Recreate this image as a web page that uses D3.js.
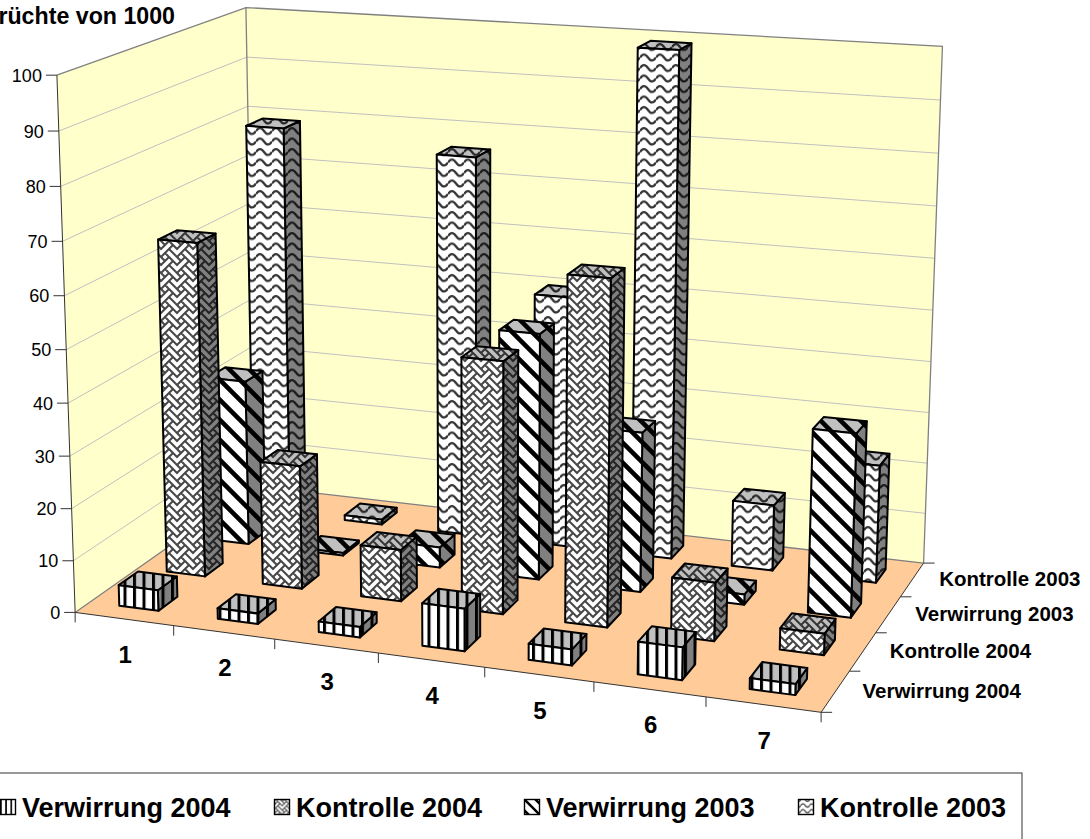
<!DOCTYPE html>
<html><head><meta charset="utf-8">
<script src="https://cdnjs.cloudflare.com/ajax/libs/d3/7.8.5/d3.min.js"></script>
<style>html,body{margin:0;padding:0;background:#fff;overflow:hidden}svg{display:block}text{font-family:"Liberation Sans",Arial,sans-serif;fill:#000}</style>
</head><body><svg id="c" width="1090" height="839"></svg>
<script>
const categories = ["1","2","3","4","5","6","7"];
const seriesNames = ["Verwirrung 2004","Kontrolle 2004","Verwirrung 2003","Kontrolle 2003"];
const verwirrung2004 = [4,2,2,8,3,6,2];
const kontrolle2004 = [65,24,10,48,65,11,4];
const verwirrung2003 = [33,0.5,4,48,31,2,35];
const kontrolle2003 = [79,1,76,50,99,13,23];
const seriesValues = [verwirrung2004,kontrolle2004,verwirrung2003,kontrolle2003];
const valueTicks = [0,10,20,30,40,50,60,70,80,90,100];
const titleText = "Früchte von 1000";

// Frame calibration: cube corner -> picture position
const corners = [
 [0,0,0,78,612],[1,0,0,820,714],[1,1,0,925,561],[0,1,0,252,487],
 [0,0,1,55,74],[0,1,1,248,8],[1,1,1,942,47]
];
function solveProjection(c){
  const A=[],b=[];
  c.forEach(([X,Y,Z,x,y])=>{
    A.push([X,Y,Z,1,0,0,0,0,-x*X,-x*Y,-x*Z]);b.push(x);
    A.push([0,0,0,0,X,Y,Z,1,-y*X,-y*Y,-y*Z]);b.push(y);
  });
  const n=11,M=[];
  for(let i=0;i<n;i++){M.push([]);for(let j=0;j<=n;j++){let s=0;
    for(let k=0;k<A.length;k++)s+=A[k][i]*(j<n?A[k][j]:b[k]);M[i].push(s);}}
  for(let i=0;i<n;i++){let p=i;for(let r=i+1;r<n;r++)if(Math.abs(M[r][i])>Math.abs(M[p][i]))p=r;
    [M[i],M[p]]=[M[p],M[i]];
    for(let r=0;r<n;r++){if(r===i)continue;const f=M[r][i]/M[i][i];for(let j=i;j<=n;j++)M[r][j]-=f*M[i][j];}}
  return M.map((r,i)=>r[n]/r[i]);
}
const P=solveProjection(corners);
const proj=(u,v,w)=>{const d=P[8]*u+P[9]*v+P[10]*w+1;
  return [(P[0]*u+P[1]*v+P[2]*w+P[3])/d,(P[4]*u+P[5]*v+P[6]*w+P[7])/d];};

const uScale=d3.scaleBand().domain(categories).range([0,1]).paddingInner(0.6).paddingOuter(0.3);
const vScale=d3.scaleBand().domain(seriesNames).range([0,1]).paddingInner(0.6).paddingOuter(0.3);
const wScale=d3.scaleLinear().domain([0,100]).range([0,1]);
const uEdge=i=>i/categories.length, vEdge=i=>i/seriesNames.length;

const svg=d3.select("#c");
const defs=svg.append("defs");
const line=d3.line();
const faces={front:"#fff",side:"#808080",top:"#c0c0c0"};
const weaveBits=[0x88,0x54,0x22,0x45,0x88,0x14,0x22,0x51];
const bit=(r,c)=>(weaveBits[(r+8)%8]>>(7-((c+8)%8)))&1;
const painters=[
 (g,ink)=>{g.append("rect").attr("width",3).attr("height",10).attr("fill",ink);},
 (g,ink)=>{let d="";
   d3.range(-1,8).forEach(r=>d3.range(-1,9).forEach(c=>{ if(!bit(r,c))return;
     [-1,1].forEach(k=>{ if(bit(r+1,c+k)) d+=`M${c*2+1},${r*2+1}L${(c+k)*2+1},${(r+1)*2+1}`; });
   }));
   g.append("path").attr("d",d).attr("fill","none").attr("stroke",ink).attr("stroke-width",2).attr("stroke-linecap","square").attr("stroke-opacity",.72);},
 (g,ink)=>{g.append("path").attr("d","M-4,-4L24,24M-24,-4L4,24M16,-4L44,24").attr("stroke",ink).attr("stroke-width",4.6);},
 (g,ink)=>{g.append("path").attr("d","M0,5C2.7,1 5.3,1 8,5S13.3,9 16,5").attr("fill","none").attr("stroke",ink).attr("stroke-width",2.2).attr("stroke-opacity",.8);}
];
const dims=[[9.5,10],[16,16],[20,20],[16,10.5]];
function pat(s,f){const id=`p${s}${f}`;
  const p=defs.append("pattern").attr("id",id).attr("patternUnits","userSpaceOnUse")
    .attr("width",dims[s][0]).attr("height",dims[s][1]);
  p.append("rect").attr("width",dims[s][0]).attr("height",dims[s][1]).attr("fill",faces[f]);
  painters[s](p.append("g"),"#000");
  return `url(#${id})`;}
const fills=seriesNames.map((_,s)=>({front:pat(s,"front"),side:pat(s,"side"),top:pat(s,"top")}));
function lpat(s){const id=`l${s}`;
  const p=defs.append("pattern").attr("id",id).attr("patternUnits","userSpaceOnUse")
    .attr("width",dims[s][0]).attr("height",dims[s][1]).attr("patternTransform","scale(0.55)");
  p.append("rect").attr("width",dims[s][0]).attr("height",dims[s][1]).attr("fill","#fff");
  painters[s](p.append("g"),"#000");return `url(#${id})`;}

const g=svg.append("g");
const poly=(pts,fill)=>g.append("path").attr("d",line(pts)+"Z").attr("fill",fill);
poly([proj(0,0,0),proj(0,1,0),proj(0,1,1),proj(0,0,1)],"#FFFFCC");
poly([proj(0,1,0),proj(1,1,0),proj(1,1,1),proj(0,1,1)],"#FFFFCC");
poly([proj(0,0,0),proj(1,0,0),proj(1,1,0),proj(0,1,0)],"#FFCC99");
valueTicks.slice(1,-1).forEach(t=>{const w=wScale(t);
  g.append("path").attr("d",line([proj(0,0,w),proj(0,1,w),proj(1,1,w)])).attr("fill","none").attr("stroke","#c0c0c0").attr("stroke-width",1);});
const edge=(pts,c,sw)=>g.append("path").attr("d",line(pts)).attr("fill","none").attr("stroke",c).attr("stroke-width",sw);
edge([proj(0,0,1),proj(0,1,1),proj(1,1,1),proj(1,1,0)],"#808080",1.3);
edge([proj(0,1,1),proj(0,1,0)],"#808080",1.3);
edge([proj(0,0,0),proj(0,1,0),proj(1,1,0)],"#808080",1.3);
edge([proj(0,0,0),proj(0,0,1)],"#333",1);
edge([proj(0,0,0),proj(1,0,0),proj(1,1,0)],"#333",1);
valueTicks.forEach(t=>{const p=proj(0,0,wScale(t));
  edge([[p[0]-11,p[1]],p],"#333",1);
  g.append("text").attr("x",p[0]-15).attr("y",p[1]).attr("dy","0.36em").attr("text-anchor","end").attr("font-size",18).text(t);});
d3.range(categories.length+1).forEach(i=>{const p=proj(uEdge(i),0,0);edge([p,[p[0],p[1]+10]],"#333",1);});
categories.forEach(c=>{const p=proj(uScale(c)+uScale.bandwidth()/2,0,0);
  g.append("text").attr("x",p[0]+1).attr("y",p[1]+44).attr("text-anchor","middle").attr("font-size",24).attr("font-weight","bold").text(c);});
d3.range(seriesNames.length+1).forEach(i=>{const p=proj(1,vEdge(i),0);edge([p,[p[0]+11,p[1]]],"#333",1);});
seriesNames.forEach(s=>{const p=proj(1,vScale(s)+vScale.bandwidth()/2,0);
  g.append("text").attr("x",p[0]+27).attr("y",p[1]-1).attr("dy","0.36em").attr("font-size",20.5).attr("font-weight","bold").text(s);});
d3.range(seriesNames.length).reverse().forEach(s=>{
  const name=seriesNames[s],v0=vScale(name),v1=v0+vScale.bandwidth();
  const barG=g.append("g").attr("class","series");
  categories.forEach((c,i)=>{
    const u0=uScale(c),u1=u0+uScale.bandwidth(),w=wScale(seriesValues[s][i]);
    const face=(pts,fill)=>barG.append("path").attr("d",line(pts)+"Z").attr("fill",fill).attr("stroke","#000").attr("stroke-width",2).attr("stroke-linejoin","round");
    face([proj(u1,v0,0),proj(u1,v1,0),proj(u1,v1,w),proj(u1,v0,w)],fills[s].side);
    face([proj(u0,v0,w),proj(u1,v0,w),proj(u1,v1,w),proj(u0,v1,w)],fills[s].top);
    face([proj(u0,v0,0),proj(u1,v0,0),proj(u1,v0,w),proj(u0,v0,w)],fills[s].front);
  });
});
g.append("text").attr("x",175).attr("y",24).attr("text-anchor","end").attr("font-size",23.2).attr("font-weight","bold").text(titleText);
const legendX=d3.scaleOrdinal().domain(seriesNames).range([0,274,524,798]);
g.append("rect").attr("x",-20).attr("y",773).attr("width",1042).attr("height",90).attr("fill","none").attr("stroke","#333").attr("stroke-width",1);
seriesNames.forEach((s,i)=>{const x=legendX(s);
  g.append("rect").attr("x",x+0.5).attr("y",799.5).attr("width",15).attr("height",15).attr("fill",lpat(i)).attr("stroke","#000").attr("stroke-width",1.4);
  g.append("text").attr("x",x+22).attr("y",817).attr("font-size",27).attr("font-weight","bold").text(s);});
</script></body></html>
